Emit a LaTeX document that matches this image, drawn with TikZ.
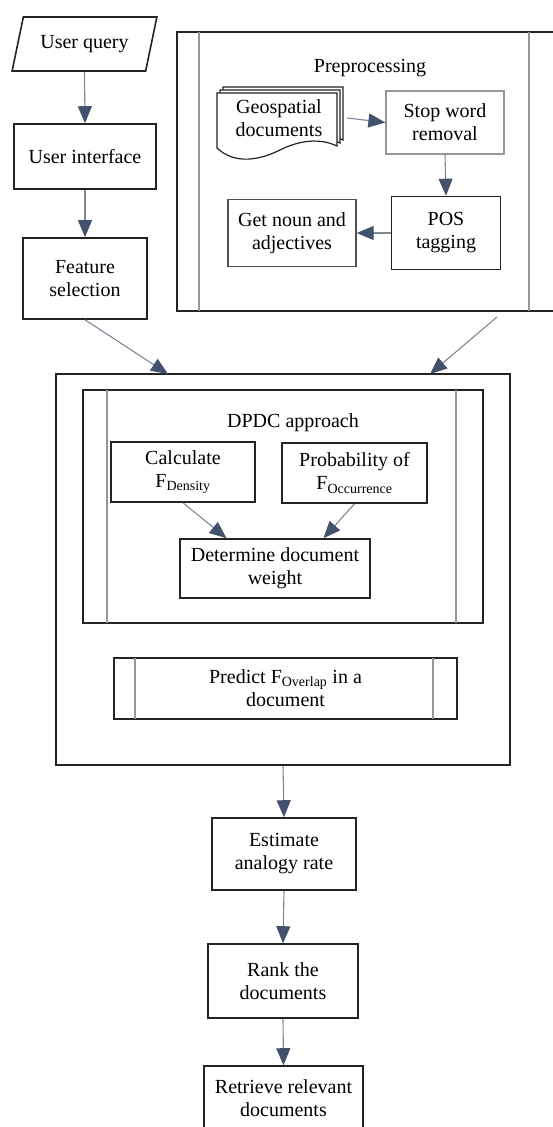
\documentclass[tikz,border=0pt]{standalone}
\usepackage{fontspec}
\setmainfont{Liberation Serif}
\newfontfamily\timesfont{Liberation Serif}
\usetikzlibrary{arrows.meta,shapes.geometric}
\definecolor{linegray}{RGB}{125,135,150}
\definecolor{headblue}{RGB}{66,82,108}
\definecolor{boxblack}{RGB}{35,35,35}
\definecolor{boxgray}{RGB}{150,150,150}
\begin{document}
\begin{tikzpicture}[x=1pt,y=-1pt,
  every node/.style={font=\timesfont\fontsize{20}{23}\selectfont,align=center,inner sep=0pt},
  blk/.style={draw=boxblack,line width=1.6pt,rectangle},
  gry/.style={draw=boxgray,line width=1.2pt,rectangle},
  bar/.style={draw=boxgray,line width=1.3pt},
  docline/.style={fill=white,draw=boxblack,line width=1.2pt},
  arr/.style={draw=linegray,line width=1.1pt,-{Triangle[length=17pt,width=14pt,color=headblue]}}]
\useasboundingbox (0,0) rectangle (553,1127);

\node[draw=boxblack,line width=1.6pt,trapezium,trapezium left angle=65,trapezium right angle=115,trapezium stretches=true,minimum width=145pt,minimum height=54pt] (v1) at (84.5,44) {User query};
\node[blk,minimum width=142pt,minimum height=65pt] (v2) at (85,156.5) {User interface};
\node[blk,minimum width=124pt,minimum height=81pt] (v3) at (85,278.5) {Feature\\selection};
\draw[arr] (v1.south) -- (v2.north);
\draw[arr] (v2.south) -- (v3.north);

% preprocessing
\node[blk,minimum width=378pt,minimum height=279pt] (v4) at (366,171.5) {};
\draw[bar] (199,32) -- (199,311);
\draw[bar] (529,32) -- (529,311);
\node (t1) at (370,68) {Preprocessing};
\filldraw[docline,shift={(6,-6)}] (217,148) -- (217,93) -- (337,93) -- (337,146) .. controls (320,138) and (300,140) .. (280,150) .. controls (260,160) and (235,165) .. (217,148) -- cycle;
\filldraw[docline,shift={(3,-3)}] (217,148) -- (217,93) -- (337,93) -- (337,146) .. controls (320,138) and (300,140) .. (280,150) .. controls (260,160) and (235,165) .. (217,148) -- cycle;
\filldraw[docline] (217,148) -- (217,93) -- (337,93) -- (337,146) .. controls (320,138) and (300,140) .. (280,150) .. controls (260,160) and (235,165) .. (217,148) -- cycle;
\node[minimum width=136pt,minimum height=66pt] (v5) at (279,118) {Geospatial\\documents};
\node[gry,minimum width=118pt,minimum height=63pt] (v6) at (445,122.5) {Stop word\\removal};
\node[blk,minimum width=109pt,minimum height=73pt] (v7) at (446,233) {POS\\tagging};
\node[draw=boxblack!80,line width=1.3pt,minimum width=128pt,minimum height=67pt] (v8) at (292,233) {Get noun and\\adjectives};
\draw[arr] (v5.east) -- (v6.west);
\draw[arr] (v6.south) -- (v7.north);
\draw[arr] (v7.west) -- (v8.east);

% dpdc
\node[blk,minimum width=454pt,minimum height=391pt] (v9) at (283,569.5) {};
\coordinate (e1) at (168,374);
\coordinate (s1) at (497,317);
\coordinate (e2) at (430,374);
\draw[arr] (v3.south) -- (e1);
\draw[arr] (s1) -- (e2);
\node[blk,minimum width=400pt,minimum height=233pt] (v10) at (283,506.5) {};
\draw[bar] (107,390) -- (107,623);
\draw[bar] (456,390) -- (456,623);
\node (t2) at (293,423) {DPDC approach};
\node[blk,minimum width=144pt,minimum height=60pt] (v11) at (183,472) {Calculate\\F\textsubscript{Density}};
\node[blk,minimum width=145pt,minimum height=60pt] (v12) at (354.5,473) {Probability of\\F\textsubscript{Occurrence}};
\node[blk,minimum width=190pt,minimum height=59pt] (v13) at (275,568.5) {Determine document\\weight};
\draw[arr] (v11.south) -- (v13.148);
\draw[arr] (v12.south) -- (v13.32);
\node[blk,minimum width=343pt,minimum height=61pt] (v14) at (285.5,688.5) {Predict F\textsubscript{Overlap} in a\\document};
\draw[bar] (135,658) -- (135,719);
\draw[bar] (433,658) -- (433,719);

\node[blk,minimum width=144pt,minimum height=72pt] (v15) at (284,854) {Estimate\\analogy rate};
\node[blk,minimum width=150pt,minimum height=74pt] (v16) at (283,981) {Rank the\\documents};
\node[blk,minimum width=159pt,minimum height=64pt] (v17) at (283.5,1098) {Retrieve relevant\\documents};
\draw[arr] (v9.south) -- (v15.north);
\draw[arr] (v15.south) -- (v16.north);
\draw[arr] (v16.south) -- (v17.north);
\end{tikzpicture}
\end{document}
